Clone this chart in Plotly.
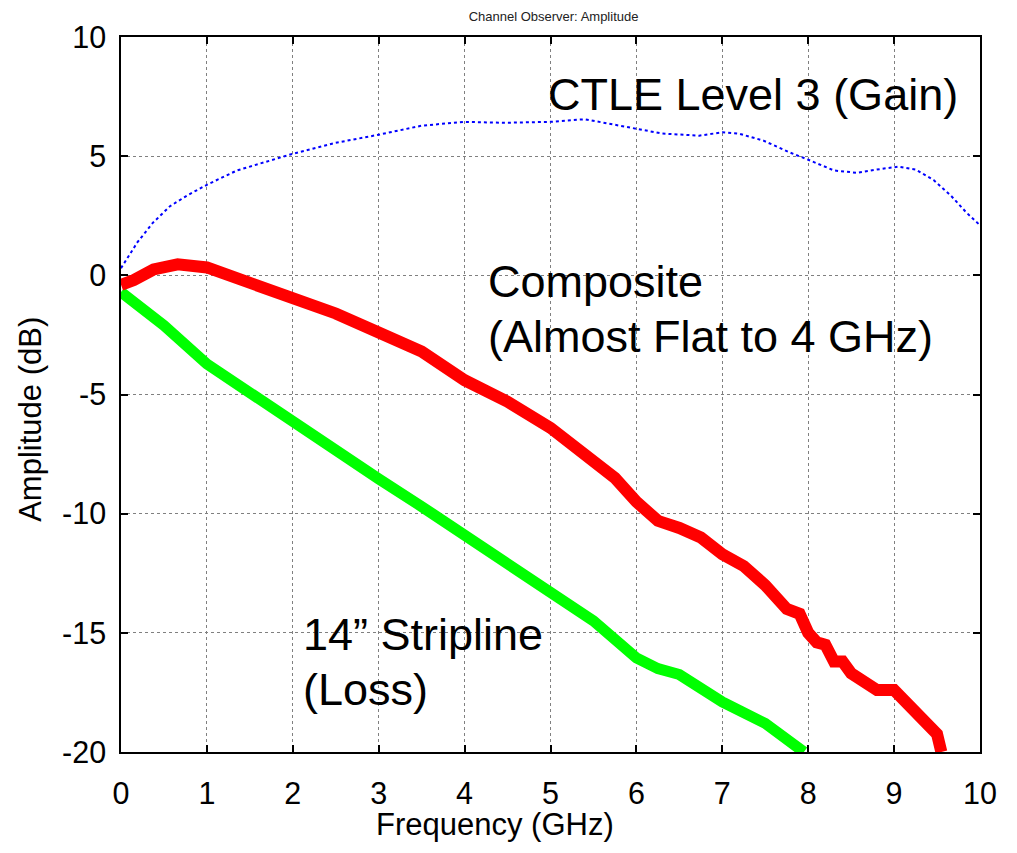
import plotly.graph_objects as go

# CTLE Level 3 (Gain) - blue dotted
freq_ctle = [0, 0.19, 0.37, 0.57, 0.77, 1.0, 1.35, 1.73, 2.0, 2.5, 3.0, 3.5, 4.0, 4.45, 5.0,
             5.4, 5.8, 6.0, 6.3, 6.73, 7.0, 7.2, 7.48, 7.79, 8.0, 8.3, 8.57, 8.8, 9.05, 9.25,
             9.46, 9.66, 9.84, 10.0]
amp_ctle = [0.3, 1.38, 2.2, 2.9, 3.35, 3.8, 4.4, 4.8, 5.1, 5.56, 5.9, 6.28, 6.44, 6.4, 6.44,
            6.55, 6.3, 6.15, 5.95, 5.86, 6.0, 5.94, 5.65, 5.15, 4.85, 4.4, 4.3, 4.44, 4.56, 4.44,
            4.0, 3.35, 2.64, 2.1]

# Composite - red
freq_comp = [0, 0.15, 0.38, 0.66, 1.0, 1.5, 2.0, 2.5, 3.0, 3.5, 4.0, 4.5, 5.0, 5.5, 5.75, 6.0,
             6.25, 6.5, 6.75, 7.0, 7.25, 7.5, 7.75, 7.9, 8.0, 8.1, 8.2, 8.3, 8.4, 8.5, 8.65,
             8.8, 9.0, 9.15, 9.3, 9.4, 9.5, 9.55]
amp_comp = [-0.4, -0.2, 0.25, 0.46, 0.33, -0.3, -1.05, -1.6, -2.4, -3.2, -4.4, -5.3, -6.4, -7.7,
            -8.5, -9.5, -10.3, -10.6, -11.0, -11.7, -12.2, -13.0, -14.0, -14.2, -15.0, -15.4,
            -15.5, -16.2, -16.2, -16.7, -17.0, -17.4, -17.4, -18.0, -18.6, -18.9, -19.25, -20.0]

# 14" Stripline (Loss) - green
freq_strip = [0, 0.5, 1.0, 1.5, 2.0, 2.5, 3.0, 3.5, 4.0, 4.5, 5.0, 5.5, 6.0, 6.25, 6.5, 7.0,
              7.5, 7.95]
amp_strip = [-0.7, -2.1, -3.72, -4.95, -6.15, -7.35, -8.54, -9.7, -10.9, -12.1, -13.3, -14.5,
             -16.05, -16.5, -16.75, -17.9, -18.8, -20.0]

x_ticks = [0, 1, 2, 3, 4, 5, 6, 7, 8, 9, 10]
y_ticks = [-20, -15, -10, -5, 0, 5, 10]
y_tick_labels = ["-20", "-15", "-10", "-5", "0", "5", "10"]

FONT = "Liberation Sans, Arial, sans-serif"

fig = go.Figure()
fig.add_trace(go.Scatter(x=freq_strip, y=amp_strip, mode="lines",
                         line=dict(color="#00FF00", width=11), name="Stripline"))
fig.add_trace(go.Scatter(x=freq_comp, y=amp_comp, mode="lines",
                         line=dict(color="#FF0000", width=12), name="Composite"))
fig.add_trace(go.Scatter(x=freq_ctle, y=amp_ctle, mode="lines",
                         line=dict(color="#0000FF", width=2, dash="dot"), name="CTLE"))

ann_font = dict(family=FONT, size=45, color="black")
annotations = [
    dict(x=4.95, y=7.6, text="CTLE Level 3 (Gain)"),
    dict(x=4.25, y=-0.25, text="Composite"),
    dict(x=4.25, y=-2.55, text="(Almost Flat to 4 GHz)"),
    dict(x=2.1, y=-15.07, text="14\u201d Stripline"),
    dict(x=2.1, y=-17.37, text="(Loss)"),
]
for a in annotations:
    fig.add_annotation(x=a["x"], y=a["y"], text=a["text"], xref="x", yref="y",
                       xanchor="left", yanchor="middle", showarrow=False, font=ann_font)

title_font = dict(family=FONT, size=31, color="black")
fig.add_annotation(x=0.435, y=-0.102, xref="paper", yref="paper", text="Frequency (GHz)",
                   xanchor="center", yanchor="middle", showarrow=False, font=title_font)
fig.add_annotation(x=-0.1056, y=0.465, xref="paper", yref="paper", text="Amplitude (dB)",
                   textangle=-90, xanchor="center", yanchor="middle", showarrow=False,
                   font=title_font)

axis_common = dict(
    showline=True, linecolor="black", linewidth=1.5, mirror="ticks",
    ticks="inside", ticklen=7, tickcolor="black", tickwidth=1.5,
    showgrid=True, gridcolor="#808080", griddash="dot", gridwidth=1,
    zeroline=False, tickfont=dict(family=FONT, size=30.5, color="black"),
)

fig.update_layout(
    width=1001, height=837,
    paper_bgcolor="white", plot_bgcolor="white",
    margin=dict(l=113, r=26, t=28, b=93),
    showlegend=False,
    title=dict(text="Channel Observer: Amplitude", x=0.545, xanchor="center",
               y=0.99, yanchor="middle", font=dict(family=FONT, size=13, color="#222")),
    xaxis=dict(range=[0, 10], tickvals=x_ticks, ticklabelstandoff=14, **axis_common),
    yaxis=dict(range=[-20, 10], tickvals=y_ticks, ticktext=y_tick_labels,
               ticklabelstandoff=7, **axis_common),
)

fig.write_html("out.html")
